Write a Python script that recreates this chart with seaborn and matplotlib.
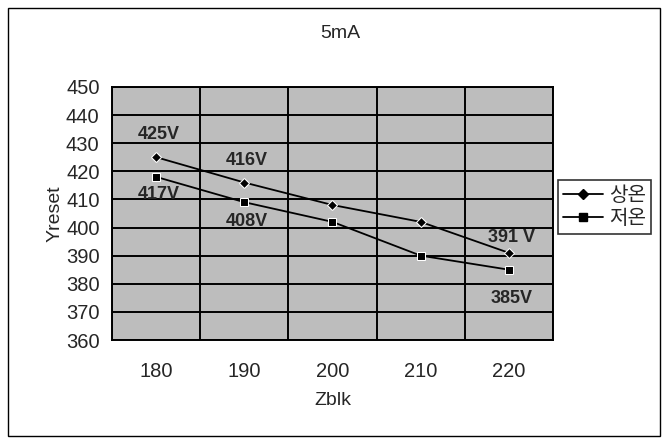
import matplotlib
matplotlib.use("Agg")
import matplotlib.pyplot as plt
import seaborn as sns
import pandas as pd
from matplotlib.patches import Rectangle
from matplotlib.lines import Line2D

categories = [180, 190, 200, 210, 220]
room_temp = [425, 416, 408, 402, 391]   # 상온
low_temp = [418, 409, 402, 390, 385]    # 저온
series_names = ["상온", "저온"]
y_ticks = [360, 370, 380, 390, 400, 410, 420, 430, 440, 450]
annotations = [  # (series, x, text)
    (0, 180, "425V"), (0, 190, "416V"), (1, 180, "417V"),
    (1, 190, "408V"), (0, 220, "391 V"), (1, 220, "385V"),
]

df = pd.DataFrame({
    "Zblk": categories * 2,
    "Yreset": room_temp + low_temp,
    "series": [series_names[0]] * len(categories) + [series_names[1]] * len(categories),
})

sns.set_theme(style="white")
plt.rcParams["font.family"] = ["Liberation Sans", "Noto Sans CJK KR", "DejaVu Sans"]

fig = plt.figure(figsize=(6.67, 4.41), dpi=100)
ax = fig.add_axes([0.168, 0.229, 0.661, 0.574])
ax.set_facecolor("#bdbdbd")

sns.lineplot(data=df, x="Zblk", y="Yreset", hue="series", style="series",
             markers={"상온": "D", "저온": "s"}, dashes=False,
             palette={"상온": "black", "저온": "black"},
             markersize=5.5, linewidth=1.3, ax=ax, legend=False)

ax.set_xlim(175, 225)
ax.set_ylim(360, 450)
ax.set_xticks(categories)
ax.set_xticks([175, 185, 195, 205, 215, 225], minor=True)
ax.set_yticks(y_ticks)
ax.grid(False)
ax.grid(True, which="minor", axis="x", color="black", linewidth=1.4)
ax.grid(True, which="major", axis="y", color="black", linewidth=1.4)
ax.tick_params(axis="both", which="both", length=0)
ax.tick_params(axis="x", pad=16, labelsize=14.5)
ax.tick_params(axis="y", pad=9, labelsize=14.5)
for s in ax.spines.values():
    s.set_color("black")
    s.set_linewidth(1.4)

ax.set_xlabel("Zblk", fontsize=14, labelpad=8)
ax.set_ylabel("Yreset", fontsize=14, labelpad=2)
fig.text(0.51, 0.925, "5mA", ha="center", va="center", fontsize=14)

series_vals = [room_temp, low_temp]
offsets = {"425V": 16, "416V": 16, "417V": -13, "408V": -14, "391 V": 11, "385V": -21}
for si, xv, txt in annotations:
    yv = series_vals[si][categories.index(xv)]
    ax.annotate(txt, (xv, yv), xytext=(2, offsets[txt]), textcoords="offset points",
                ha="center", va="center", fontsize=13, fontweight="bold")

handles = [Line2D([], [], color="black", marker="D", markersize=5.5, linewidth=1.3),
           Line2D([], [], color="black", marker="s", markersize=5.5, linewidth=1.3)]
leg = fig.legend(handles, series_names, loc="center left", bbox_to_anchor=(0.836, 0.531),
                 frameon=True, fancybox=False, handlelength=2.0,
                 handletextpad=0.3, borderpad=0.25, labelspacing=0.1, borderaxespad=0,
                 prop={"family": ["Noto Sans CJK KR"], "size": 14.5})
leg.get_frame().set_edgecolor("black")
leg.get_frame().set_linewidth(1.2)

fig.patches.append(Rectangle((0.012, 0.012), 0.978, 0.97, transform=fig.transFigure,
                             fill=False, edgecolor="black", linewidth=1.0))

fig.savefig("out.png", dpi=100)
